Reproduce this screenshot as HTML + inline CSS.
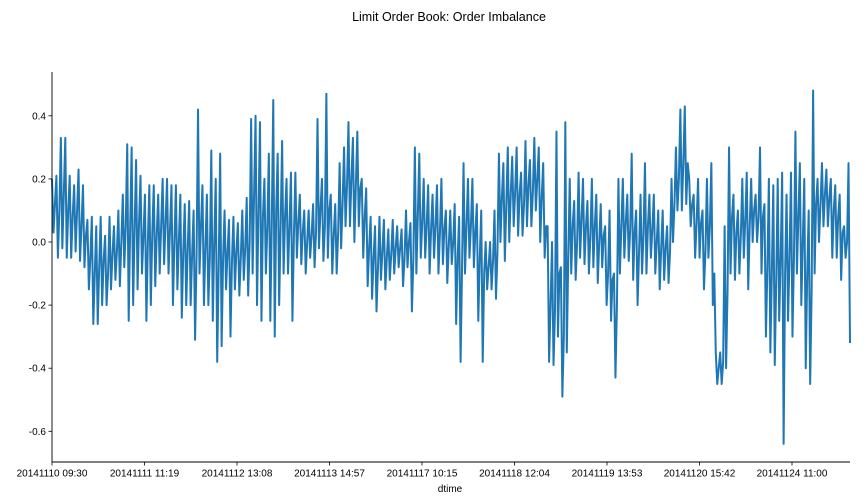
<!DOCTYPE html>
<html><head><meta charset="utf-8"><style>
body{margin:0;background:#fff}
svg{display:block;font-family:"Liberation Sans","DejaVu Sans",sans-serif}
</style></head><body>
<svg id="chart" width="864" height="504">
<text x="449" y="21" font-size="12.5" text-anchor="middle" fill="#000">Limit Order Book: Order Imbalance</text>
<g id="plot"></g>
<text x="450" y="492" font-size="10" text-anchor="middle" fill="#000">dtime</text>
</svg>
<script>
const xTickLabels=["20141110 09:30","20141111 11:19","20141112 13:08","20141113 14:57","20141117 10:15","20141118 12:04","20141119 13:53","20141120 15:42","20141124 11:00"];
const yTicks=[0.4,0.2,0.0,-0.2,-0.4,-0.6];
const imbalance=[
0.2,0.03,0.12,0.21,-0.05,0.1,0.33,-0.02,0.15,0.33,-0.05,0.1,0.21,-0.05,0.08,0.18,-0.03,0.1,0.23,-0.06,0.05,0.18,-0.08,0.02,
0.07,-0.15,-0.05,0.08,-0.26,-0.1,0.05,-0.26,-0.08,0.08,-0.2,-0.06,0.02,-0.2,-0.1,0.08,-0.15,-0.04,0.05,-0.12,-0.03,0.1,-0.14,0.0,0.15,-0.08,0.05,
0.31,-0.25,0.05,0.3,-0.2,0.04,0.26,-0.15,0.06,0.21,-0.1,0.02,0.15,-0.25,0.0,0.18,-0.2,0.03,0.18,-0.14,0.02,0.15,-0.1,0.05,0.2,-0.07,0.06,0.2,-0.1,0.04,0.18,-0.2,0.0,0.18,-0.15,0.0,0.15,-0.24,-0.03,0.12,-0.2,-0.02,0.13,-0.2,-0.04,0.1,-0.31,-0.05,
0.42,-0.1,0.05,0.18,-0.2,-0.02,0.15,-0.2,-0.05,0.29,-0.25,0.0,0.2,-0.38,-0.08,0.28,-0.33,-0.05,0.1,-0.15,-0.03,0.07,-0.3,-0.06,0.08,-0.15,-0.03,0.06,-0.17,-0.05,0.1,-0.12,-0.02,0.14,-0.17,0.0,
0.39,-0.1,0.15,0.4,-0.2,0.1,0.38,-0.25,0.08,0.2,-0.1,0.05,0.28,-0.25,0.06,0.45,-0.3,0.1,0.28,-0.2,0.05,0.32,-0.1,0.08,0.2,-0.1,0.05,0.22,-0.25,0.02,0.22,-0.05,0.06,
0.15,-0.07,0.03,0.1,-0.1,0.0,0.1,-0.05,0.02,0.12,-0.08,0.03,0.39,-0.02,0.1,0.2,-0.06,0.05,0.47,-0.05,0.1,0.15,-0.1,0.02,0.12,-0.1,0.03,
0.25,-0.02,0.12,0.3,0.05,0.18,0.38,0.05,0.2,0.33,0.0,0.18,0.35,0.05,0.17,0.2,-0.05,0.08,
0.17,-0.14,-0.02,0.08,-0.18,-0.05,0.05,-0.22,-0.08,0.08,-0.12,-0.03,0.07,-0.15,-0.05,0.04,-0.12,-0.04,0.07,-0.1,-0.02,0.05,-0.08,-0.02,0.04,-0.14,-0.05,0.1,-0.08,0.0,0.06,-0.22,-0.05,
0.3,-0.1,0.08,0.28,-0.05,0.06,0.2,-0.05,0.05,0.18,-0.1,0.04,0.15,-0.05,0.05,0.18,-0.1,0.03,0.2,-0.07,0.04,0.1,-0.13,-0.01,0.1,-0.07,0.0,
0.12,-0.26,-0.05,0.08,-0.38,-0.08,0.25,-0.1,0.05,0.2,-0.05,0.05,0.2,-0.08,0.03,0.12,-0.25,-0.05,0.1,-0.38,-0.1,0.0,-0.15,-0.08,0.0,-0.15,-0.06,0.1,-0.18,-0.03,
0.28,0.0,0.14,0.25,-0.06,0.12,0.3,0.0,0.15,0.27,0.05,0.16,0.3,0.02,0.15,0.22,0.02,0.12,0.32,0.05,0.18,0.26,0.05,0.16,0.33,0.1,0.2,0.3,0.0,0.14,0.25,-0.05,0.05,
0.05,-0.38,-0.2,0.0,-0.39,-0.22,0.35,-0.3,-0.1,-0.08,-0.49,-0.3,0.38,-0.35,-0.05,
0.2,-0.1,0.05,0.13,-0.12,0.0,0.22,-0.05,0.07,0.2,-0.07,0.05,0.13,-0.1,0.02,0.2,-0.08,0.05,0.15,-0.13,0.0,0.12,-0.08,0.02,
0.05,-0.2,-0.1,0.1,-0.25,-0.12,-0.1,-0.43,-0.2,
0.2,-0.1,0.05,0.2,-0.05,0.06,0.15,-0.06,0.04,0.28,-0.12,0.03,0.1,-0.2,-0.03,0.15,-0.1,0.02,0.25,-0.1,0.05,0.15,-0.05,0.04,0.15,-0.1,0.0,0.1,-0.15,-0.02,0.1,-0.12,-0.02,0.05,-0.13,-0.03,
0.2,0.0,0.12,0.3,0.1,0.2,0.42,0.1,0.25,0.43,0.12,0.25,0.2,0.05,0.12,0.15,-0.05,0.06,0.2,-0.05,0.06,
0.1,-0.15,-0.03,0.2,-0.05,0.05,0.25,-0.2,-0.1,-0.35,-0.45,-0.4,-0.35,-0.45,-0.38,0.05,-0.4,-0.15,
0.3,-0.1,0.08,0.15,-0.12,0.03,0.1,-0.1,0.02,0.2,-0.05,0.07,0.22,-0.15,0.05,0.2,0.0,0.1,0.15,0.0,0.08,0.3,-0.1,0.08,
0.12,-0.3,-0.08,0.2,-0.35,-0.1,0.18,-0.39,-0.12,0.2,-0.25,-0.05,0.22,-0.64,-0.1,0.15,-0.25,-0.05,0.22,-0.3,-0.05,0.35,-0.1,0.08,0.25,-0.2,0.0,0.2,-0.4,-0.1,0.1,-0.45,-0.15,
0.48,-0.1,0.12,0.2,0.0,0.12,0.25,0.05,0.15,0.23,0.05,0.14,0.2,-0.05,0.1,0.18,-0.05,0.08,0.15,-0.12,0.03,0.05,-0.05,0.0,0.25,-0.32];

const NS='http://www.w3.org/2000/svg';
const plot=document.getElementById('plot');
const X0=52,X1=850,Y0=72,Y1=462;
const yScale=v=>242-v*315.5;
const xScale=i=>X0+i/(imbalance.length-1)*(X1-X0);
const xTickPos=i=>X0+i*92.5;
function mk(t,a){const e=document.createElementNS(NS,t);for(const k in a)e.setAttribute(k,a[k]);plot.appendChild(e);return e;}

let d='';
imbalance.forEach((v,i)=>{d+=(i?'L':'M')+xScale(i).toFixed(2)+' '+yScale(v).toFixed(2);});
const line=mk('path',{d:d,fill:'none',stroke:'#1f77b4','stroke-width':2.0,'stroke-linejoin':'round'});



const ly=mk('line',{x1:X0,y1:Y0,x2:X0,y2:Y1,stroke:'#000','stroke-width':0.9});


const lx=mk('line',{x1:X0,y1:Y1,x2:X1,y2:Y1,stroke:'#000','stroke-width':0.9});



yTicks.forEach(v=>{
  const y=yScale(v);
  const t=mk('line',{x1:X0-3.5,y1:y,x2:X0,y2:y,stroke:'#000','stroke-width':0.8});
  
  
  const tx=mk('text',{x:X0-6,y:y+3.5,'font-size':10,'text-anchor':'end',fill:'#000'});
  tx.textContent=v.toFixed(1);
  
  
});
xTickLabels.forEach((s,i)=>{
  const x=xTickPos(i);
  const t=mk('line',{x1:x,y1:Y1,x2:x,y2:Y1+3.5,stroke:'#000','stroke-width':0.8});
  
  
  const tx=mk('text',{x:x,y:Y1+14.5,'font-size':10,'text-anchor':'middle',fill:'#000'});
  tx.textContent=s;
  
  
});
</script>
</body></html>
